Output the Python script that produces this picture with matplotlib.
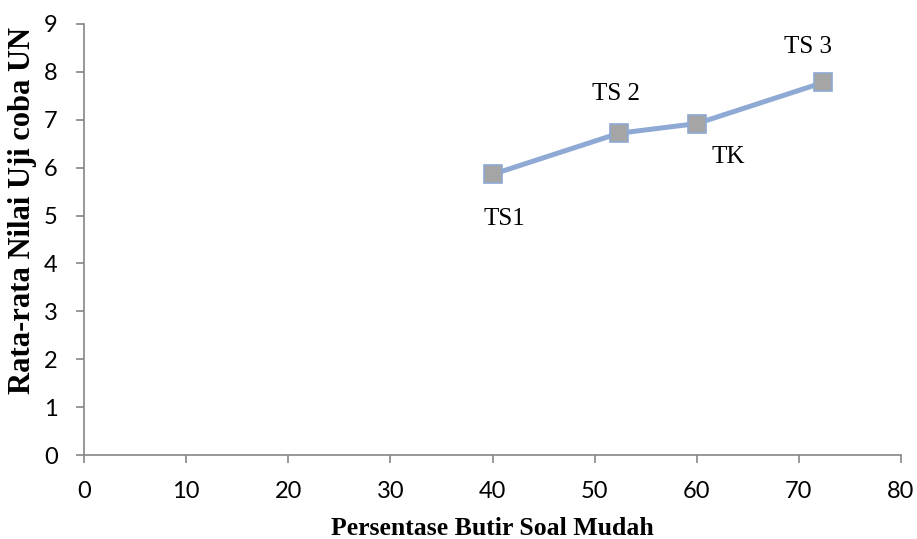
import matplotlib.pyplot as plt

# mean try-out score vs share of easy items, per school
persen_mudah = [40.0, 52.4, 60.0, 72.4]
rata_nilai = [5.86, 6.72, 6.92, 7.78]
nama_sekolah = ['TS1', 'TS 2', 'TK', 'TS 3']
# label offsets in points (dx, dy)
label_offset = [(8.4, -32), (-2.4, 28), (22.8, -24), (-11.3, 25.4)]

x_ticks = list(range(0, 81, 10))
y_ticks = list(range(0, 10))

axis_grey = '#868686'
line_blue = '#8EA9D3'
marker_grey = '#A5A5A5'

fig = plt.figure(figsize=(9.17, 5.39), dpi=100)
ax = fig.add_axes([0.0916, 0.1558, 0.8910, 0.7997])

ax.plot(persen_mudah, rata_nilai, color=line_blue, lw=3.6,
        marker='s', markersize=13, markerfacecolor=marker_grey,
        markeredgecolor=line_blue, markeredgewidth=1.2, zorder=3)

for x, y, nama, off in zip(persen_mudah, rata_nilai, nama_sekolah, label_offset):
    ax.annotate(nama, (x, y), xytext=off, textcoords='offset points',
                ha='center', va='center', fontsize=18,
                family='Liberation Serif')

ax.set_xlim(0, 80)
ax.set_ylim(0, 9)
ax.set_xticks(x_ticks)
ax.set_yticks(y_ticks)

for side in ['top', 'right']:
    ax.spines[side].set_visible(False)
for side in ['left', 'bottom']:
    ax.spines[side].set_color(axis_grey)
    ax.spines[side].set_linewidth(1.2)

ax.tick_params(axis='both', direction='out', length=6, width=1.2,
               color=axis_grey, labelsize=17)
ax.tick_params(axis='x', pad=13)
ax.tick_params(axis='y', pad=13)
for lab in ax.get_xticklabels() + ax.get_yticklabels():
    lab.set_family('Lato')

# axis titles placed in figure coordinates
fig.text(0.5365, 0.019, 'Persentase Butir Soal Mudah', fontsize=18.5,
         fontweight='bold', family='Liberation Serif', ha='center', va='center')
fig.text(0.025, 0.61, 'Rata-rata Nilai Uji coba UN', fontsize=22,
         fontweight='bold', family='Liberation Serif', ha='center', va='center',
         rotation=90)

fig.savefig('out.png', dpi=100)
